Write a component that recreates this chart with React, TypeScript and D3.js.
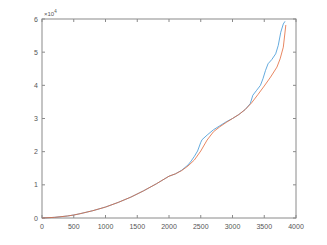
import { useEffect, useRef } from "react";
import * as d3 from "d3";

// sample positions (x) and the two series (y, in units of 1e4)
const redX = [0, 200, 400, 500, 600, 800, 1000, 1200, 1400, 1600, 1800, 2000, 2100, 2200, 2300, 2400, 2500, 2600, 2700, 2800, 2900, 3000, 3100, 3200, 3300, 3400, 3500, 3600, 3700, 3750, 3800, 3840];
const redY = [0, 0.02, 0.06, 0.09, 0.13, 0.22, 0.33, 0.47, 0.63, 0.82, 1.03, 1.26, 1.33, 1.43, 1.57, 1.75, 2.02, 2.35, 2.6, 2.75, 2.88, 3.0, 3.12, 3.27, 3.47, 3.72, 3.98, 4.25, 4.55, 4.8, 5.15, 5.82];

const blueX = [0, 200, 400, 500, 600, 800, 1000, 1200, 1400, 1600, 1800, 2000, 2100, 2200, 2300, 2350, 2400, 2450, 2500, 2520, 2600, 2700, 2800, 2900, 3000, 3100, 3200, 3280, 3320, 3380, 3440, 3480, 3520, 3560, 3620, 3680, 3720, 3760, 3800, 3827];
const blueY = [0, 0.02, 0.06, 0.09, 0.13, 0.22, 0.33, 0.47, 0.63, 0.82, 1.03, 1.26, 1.33, 1.44, 1.6, 1.72, 1.86, 2.02, 2.28, 2.36, 2.5, 2.66, 2.78, 2.9, 3.0, 3.12, 3.27, 3.45, 3.7, 3.85, 4.0, 4.2, 4.45, 4.65, 4.78, 4.95, 5.2, 5.6, 5.85, 5.93];

const xTicks = [0, 500, 1000, 1500, 2000, 2500, 3000, 3500, 4000];
const yTicks = [0, 1, 2, 3, 4, 5, 6];

const W = 327, H = 245;
const m = { left: 42, right: 31, top: 19, bottom: 27 };

export default function App() {
  const ref = useRef<SVGSVGElement>(null);

  useEffect(() => {
    const svg = d3.select(ref.current);
    svg.selectAll("*").remove();

    const x = d3.scaleLinear().domain([0, 4000]).range([m.left, W - m.right]);
    const y = d3.scaleLinear().domain([0, 6]).range([H - m.bottom, m.top]);
    const axisColor = "#8a8a8a";
    const font = "Liberation Sans, Arial, sans-serif";
    const g = svg.append("g");

    // box
    g.append("rect")
      .attr("x", x(0)).attr("y", y(6))
      .attr("width", x(4000) - x(0)).attr("height", y(0) - y(6))
      .attr("fill", "none").attr("stroke", axisColor).attr("stroke-width", 1);

    // ticks point inwards on all four sides
    xTicks.forEach((t) => {
      g.append("line").attr("x1", x(t)).attr("x2", x(t)).attr("y1", y(0)).attr("y2", y(0) - 3).attr("stroke", axisColor);
      g.append("line").attr("x1", x(t)).attr("x2", x(t)).attr("y1", y(6)).attr("y2", y(6) + 3).attr("stroke", axisColor);
      g.append("text").attr("x", x(t)).attr("y", y(0) + 11).attr("text-anchor", "middle")
        .attr("font-size", 7).attr("font-family", font).attr("fill", "#555").text(t);
    });
    yTicks.forEach((t) => {
      g.append("line").attr("x1", x(0)).attr("x2", x(0) + 3).attr("y1", y(t)).attr("y2", y(t)).attr("stroke", axisColor);
      g.append("line").attr("x1", x(4000)).attr("x2", x(4000) - 3).attr("y1", y(t)).attr("y2", y(t)).attr("stroke", axisColor);
      g.append("text").attr("x", x(0) - 4).attr("y", y(t) + 2.5).attr("text-anchor", "end")
        .attr("font-size", 7).attr("font-family", font).attr("fill", "#555").text(t);
    });

    // exponent label
    const ex = g.append("text").attr("x", x(0) + 2).attr("y", y(6) - 3)
      .attr("font-size", 6).attr("font-family", font).attr("fill", "#555");
    ex.append("tspan").text("\u00d710");
    ex.append("tspan").attr("dy", -3).attr("font-size", 4.5).text("4");

    const line = d3.line<[number, number]>().x((d) => x(d[0])).y((d) => y(d[1]));

    g.append("path")
      .datum(blueX.map((v, i) => [v, blueY[i]] as [number, number]))
      .attr("d", line).attr("fill", "none").attr("stroke", "#3d96d6").attr("stroke-width", 0.8);
    g.append("path")
      .datum(redX.map((v, i) => [v, redY[i]] as [number, number]))
      .attr("d", line).attr("fill", "none").attr("stroke", "#e2683a").attr("stroke-width", 0.8);
  }, []);

  return (
    <div style={{ margin: -8 }}>
      <svg ref={ref} width={W} height={H} style={{ display: "block", background: "#fff" }} />
    </div>
  );
}
